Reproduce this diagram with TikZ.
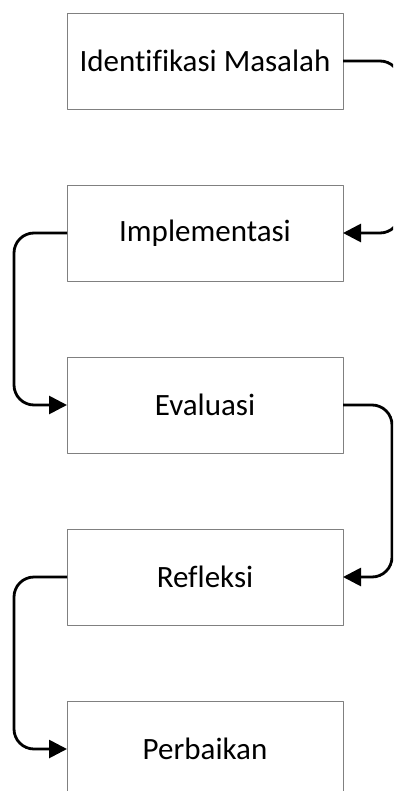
\documentclass[tikz,border=0pt]{standalone}
\usepackage{fontspec}
\setmainfont{Carlito}[Ligatures=NoCommon]
\usetikzlibrary{positioning,arrows.meta}
\begin{document}
\begin{tikzpicture}[line join=round, line cap=butt, x=1pt, y=1pt]
	\tikzset{every node/.style={font=\fontsize{31}{37}\selectfont}}
	\tikzset{langkah/.style={draw=gray, line width=0.9pt, minimum width=276pt, minimum height=96pt, inner sep=0pt, outer sep=0pt}}
	\tikzset{panah/.style={-{Triangle[length=18pt,width=18pt]}, line width=2.8pt, rounded corners=20pt}}
	\useasboundingbox (0,0) rectangle (393,-791);
	\clip (0,0) rectangle (393,-791);
	\node[langkah] (identifikasi) at (205,-61) {Identifikasi Masalah};
	\node[langkah, below=76pt of identifikasi] (implementasi) {Implementasi};
	\node[langkah, below=76pt of implementasi] (evaluasi) {Evaluasi};
	\node[langkah, below=76pt of evaluasi] (refleksi) {Refleksi};
	\node[langkah, below=76pt of refleksi] (perbaikan) {Perbaikan};
	% alur siklus
	\draw[panah] (identifikasi.east) -- ++(57,0) |- (implementasi.east);
	\draw[panah] (implementasi.west) -- ++(-53,0) |- (evaluasi.west);
	\draw[panah] (evaluasi.east) -- ++(49,0) |- (refleksi.east);
	\draw[panah] (refleksi.west) -- ++(-53,0) |- (perbaikan.west);
\end{tikzpicture}
\end{document}
